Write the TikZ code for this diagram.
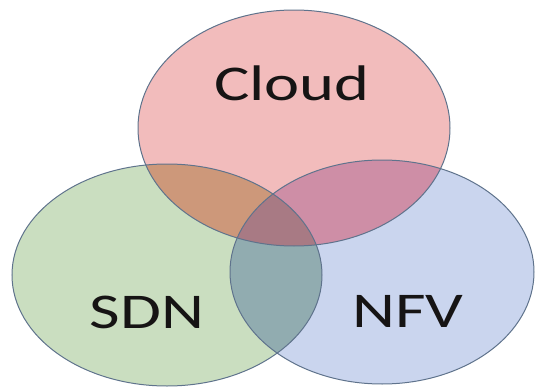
\documentclass[tikz,border=0pt]{standalone}
\usepackage{fontspec}
\usepackage{xcolor}
\usepackage{tikz}
\usetikzlibrary{positioning}
\newfontfamily\vennfont[FakeStretch=1.33]{Carlito}
\definecolor{cloudpink}{RGB}{242,188,188}
\definecolor{sdngreen}{RGB}{202,222,192}
\definecolor{nfvblue}{RGB}{202,213,238}
\definecolor{cloudsdn}{RGB}{205,152,122}
\definecolor{cloudnfv}{RGB}{206,142,166}
\definecolor{sdnnfv}{RGB}{145,172,176}
\definecolor{allthree}{RGB}{168,122,132}
\definecolor{rimgrey}{RGB}{95,115,140}
\definecolor{inkdark}{RGB}{22,20,20}
\newcommand{\cloudset}{(294,128) ellipse [x radius=156, y radius=118]}
\newcommand{\sdnset}{(167,275) ellipse [x radius=155, y radius=111]}
\newcommand{\nfvset}{(382,272) ellipse [x radius=152, y radius=112]}

\begin{document}
\begin{tikzpicture}[x=1pt, y=-1pt,
  rim/.style={draw=rimgrey, line width=1pt},
  setname/.style={inkdark, font=\vennfont\fontsize{50}{50}\selectfont, anchor=base, inner sep=0pt}]
  \useasboundingbox (0,0) rectangle (539,388);

  % the three sets
  \fill[cloudpink] \cloudset;
  \fill[sdngreen] \sdnset;
  \fill[nfvblue] \nfvset;

  % pairwise overlaps
  \begin{scope}
    \clip \cloudset;
    \fill[cloudsdn] \sdnset;
    \fill[cloudnfv] \nfvset;
  \end{scope}
  \begin{scope}
    \clip \sdnset;
    \fill[sdnnfv] \nfvset;
  \end{scope}

  % middle part
  \begin{scope}
    \clip \cloudset;
    \clip \sdnset;
    \fill[allthree] \nfvset;
  \end{scope}

  % outlines
  \draw[rim] \sdnset;
  \draw[rim] \nfvset;
  \draw[rim] \cloudset;

  % labels
  \node[setname] (cloud) at (292,100) {Cloud};
  \node[setname] (sdn) at (147,328) {SDN};
  \node[setname] (nfv) at (408,327) {NFV};
\end{tikzpicture}
\end{document}
